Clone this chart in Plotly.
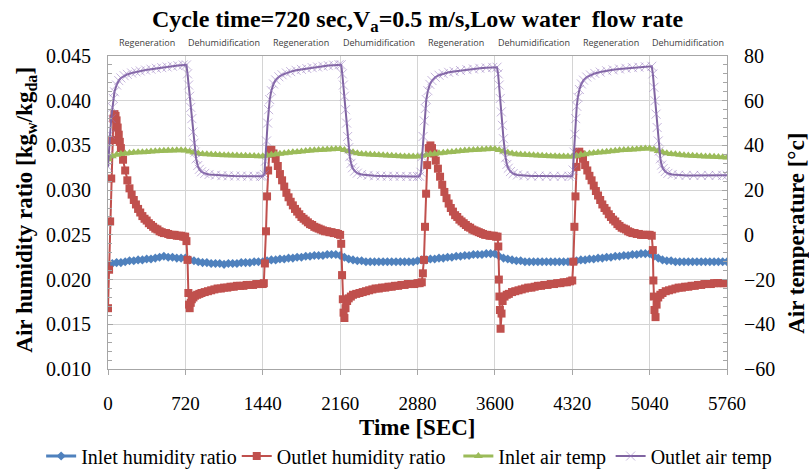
import plotly.graph_objects as go

# ---------------- data ----------------
x_ticks = [0, 720, 1440, 2160, 2880, 3600, 4320, 5040, 5760]
phase_labels = ["Regeneration", "Dehumidification"] * 4
phase_centers = [360, 1080, 1800, 2520, 3240, 3960, 4680, 5400]

# inlet series sampled every 40 s
t_inlet = list(range(0, 5761, 40))

inlet_humidity = [
    0.0216, 0.0218, 0.0219, 0.0219, 0.0220, 0.0221, 0.0221, 0.0222, 0.0222, 0.0223, 0.0223, 0.0224, 0.0225, 0.0226, 0.0225, 0.0225, 0.0224, 0.0224,
    0.0224, 0.0222, 0.0221, 0.0220, 0.0219, 0.0219, 0.0218, 0.0218, 0.0218, 0.0217, 0.0218, 0.0218, 0.0218, 0.0219, 0.0219, 0.0219, 0.0220, 0.0220,
    0.0220, 0.0221, 0.0222, 0.0222, 0.0223, 0.0223, 0.0224, 0.0224, 0.0225, 0.0225, 0.0226, 0.0226, 0.0227, 0.0227, 0.0227, 0.0228, 0.0228, 0.0228,
    0.0227, 0.0225, 0.0223, 0.0222, 0.0221, 0.0221, 0.0220, 0.0220, 0.0220, 0.0220, 0.0220, 0.0220, 0.0220, 0.0220, 0.0220, 0.0220, 0.0220, 0.0220,
    0.0221, 0.0222, 0.0222, 0.0223, 0.0223, 0.0224, 0.0224, 0.0225, 0.0225, 0.0226, 0.0226, 0.0227, 0.0227, 0.0228, 0.0228, 0.0228, 0.0229, 0.0229,
    0.0229, 0.0226, 0.0224, 0.0223, 0.0222, 0.0221, 0.0221, 0.0220, 0.0220, 0.0220, 0.0220, 0.0220, 0.0220, 0.0220, 0.0220, 0.0220, 0.0220, 0.0220,
    0.0220, 0.0221, 0.0222, 0.0222, 0.0223, 0.0223, 0.0224, 0.0224, 0.0225, 0.0225, 0.0226, 0.0226, 0.0227, 0.0227, 0.0228, 0.0228, 0.0229, 0.0229,
    0.0229, 0.0226, 0.0224, 0.0222, 0.0221, 0.0221, 0.0220, 0.0220, 0.0220, 0.0220, 0.0220, 0.0220, 0.0220, 0.0220, 0.0220, 0.0220, 0.0220, 0.0220,
    0.0220,
]

inlet_temp = [
    33.8, 35.2, 35.8, 36.2, 36.4, 36.6, 36.8, 36.9, 37.0, 37.1, 37.3, 37.4, 37.5, 37.6, 37.7, 37.7, 37.8, 37.8,
    37.7, 37.3, 36.8, 36.4, 36.2, 36.0, 35.9, 35.8, 35.7, 35.6, 35.6, 35.5, 35.5, 35.4, 35.4, 35.3, 35.3, 35.2,
    35.2, 35.5, 35.8, 36.0, 36.3, 36.5, 36.7, 36.9, 37.1, 37.3, 37.5, 37.7, 37.8, 38.0, 38.1, 38.2, 38.3, 38.4,
    38.4, 38.0, 37.4, 36.9, 36.5, 36.2, 36.0, 35.9, 35.8, 35.7, 35.6, 35.5, 35.4, 35.3, 35.2, 35.1, 35.1, 35.0,
    35.0, 35.4, 35.7, 36.0, 36.3, 36.5, 36.7, 36.9, 37.1, 37.3, 37.5, 37.7, 37.8, 38.0, 38.1, 38.2, 38.3, 38.4,
    38.4, 38.0, 37.3, 36.8, 36.4, 36.1, 35.9, 35.8, 35.7, 35.6, 35.5, 35.4, 35.3, 35.2, 35.2, 35.1, 35.1, 35.0,
    35.0, 35.4, 35.8, 36.1, 36.4, 36.6, 36.8, 37.0, 37.2, 37.4, 37.6, 37.8, 37.9, 38.1, 38.2, 38.3, 38.5, 38.6,
    38.6, 38.2, 37.5, 36.9, 36.5, 36.2, 36.0, 35.8, 35.6, 35.5, 35.4, 35.3, 35.2, 35.1, 35.0, 34.9, 34.8, 34.7,
    34.6,
]

# outlet humidity ratio: (time s, kg/kg)
outlet_humidity_points = [
    # cycle 1 regeneration
    (0, 0.0168), (10, 0.0211), (20, 0.0265), (30, 0.0313), (40, 0.0356), (50, 0.0380), (60, 0.0385), (70, 0.0383),
    (80, 0.0378), (90, 0.0370), (100, 0.0362), (110, 0.0354), (120, 0.0347), (140, 0.0334), (160, 0.0322), (180, 0.0311),
    (200, 0.0302), (220, 0.0295), (240, 0.0289), (260, 0.0284), (280, 0.0279), (300, 0.0275), (320, 0.0271), (340, 0.0268),
    (360, 0.0266), (380, 0.0263), (400, 0.0261), (420, 0.0259), (440, 0.0257), (460, 0.0256), (480, 0.0254), (500, 0.0253),
    (520, 0.0252), (540, 0.0252), (560, 0.0251), (580, 0.0250), (600, 0.0250), (620, 0.0250), (640, 0.0249), (660, 0.0249),
    (680, 0.0249), (700, 0.0248), (718, 0.0248),
    # cycle 1 dehumidification
    (730, 0.0243), (740, 0.0222), (748, 0.0185), (754, 0.0172), (760, 0.0168), (770, 0.0174), (780, 0.0178), (795, 0.0180),
    (810, 0.0182), (830, 0.0183), (850, 0.0184), (870, 0.0185), (900, 0.0186), (930, 0.0187), (960, 0.0188), (990, 0.0189),
    (1020, 0.0190), (1050, 0.0190), (1080, 0.0191), (1110, 0.0191), (1140, 0.0192), (1170, 0.0192), (1200, 0.0193),
    (1230, 0.0193), (1260, 0.0193), (1290, 0.0194), (1320, 0.0194), (1350, 0.0194), (1380, 0.0195), (1410, 0.0195), (1440, 0.0195),
    # cycle 2 regeneration
    (1450, 0.0196), (1460, 0.0218), (1470, 0.0254), (1480, 0.0293), (1490, 0.0322), (1500, 0.0341), (1510, 0.0345),
    (1520, 0.0345), (1540, 0.0341), (1560, 0.0335), (1580, 0.0327), (1600, 0.0318), (1620, 0.0311), (1640, 0.0304),
    (1660, 0.0297), (1680, 0.0292), (1700, 0.0287), (1720, 0.0283), (1740, 0.0279), (1760, 0.0276), (1780, 0.0273),
    (1800, 0.0270), (1820, 0.0268), (1840, 0.0266), (1860, 0.0264), (1880, 0.0262), (1900, 0.0261), (1920, 0.0259),
    (1940, 0.0258), (1960, 0.0257), (1980, 0.0256), (2000, 0.0255), (2020, 0.0254), (2040, 0.0254), (2060, 0.0253),
    (2080, 0.0253), (2100, 0.0252), (2120, 0.0252), (2140, 0.0251), (2160, 0.0250),
    # cycle 2 dehumidification
    (2170, 0.0240), (2178, 0.0205), (2185, 0.0178), (2192, 0.0163), (2200, 0.0157), (2210, 0.0168), (2225, 0.0176),
    (2240, 0.0179), (2260, 0.0181), (2280, 0.0183), (2310, 0.0184), (2340, 0.0185), (2370, 0.0186), (2400, 0.0187),
    (2430, 0.0188), (2460, 0.0189), (2490, 0.0190), (2520, 0.0190), (2550, 0.0191), (2580, 0.0191), (2610, 0.0192),
    (2640, 0.0192), (2670, 0.0193), (2700, 0.0193), (2730, 0.0194), (2760, 0.0194), (2790, 0.0195), (2820, 0.0195),
    (2850, 0.0195), (2880, 0.0196),
    # cycle 3 regeneration
    (2900, 0.0196), (2920, 0.0197), (2930, 0.0207), (2940, 0.0222), (2950, 0.0259), (2960, 0.0296), (2970, 0.0328),
    (2985, 0.0347), (3000, 0.0350), (3015, 0.0347), (3030, 0.0341), (3050, 0.0333), (3070, 0.0324), (3090, 0.0315),
    (3110, 0.0306), (3130, 0.0298), (3150, 0.0291), (3170, 0.0285), (3190, 0.0280), (3210, 0.0276), (3230, 0.0272),
    (3250, 0.0270), (3270, 0.0267), (3290, 0.0265), (3310, 0.0263), (3330, 0.0261), (3350, 0.0259), (3370, 0.0258),
    (3390, 0.0256), (3410, 0.0255), (3430, 0.0254), (3450, 0.0253), (3470, 0.0252), (3490, 0.0251), (3510, 0.0250),
    (3530, 0.0250), (3550, 0.0249), (3570, 0.0249), (3590, 0.0249), (3610, 0.0248), (3625, 0.0248),
    # cycle 3 dehumidification
    (3632, 0.0237), (3637, 0.0200), (3642, 0.0181), (3647, 0.0166), (3653, 0.0145), (3662, 0.0162), (3672, 0.0176),
    (3690, 0.0181), (3710, 0.0183), (3730, 0.0184), (3760, 0.0186), (3790, 0.0187), (3820, 0.0188), (3850, 0.0189),
    (3880, 0.0190), (3910, 0.0191), (3940, 0.0191), (3970, 0.0192), (4000, 0.0193), (4030, 0.0193), (4060, 0.0194),
    (4090, 0.0194), (4120, 0.0195), (4150, 0.0195), (4180, 0.0196), (4210, 0.0196), (4240, 0.0197), (4270, 0.0197),
    (4300, 0.0198), (4320, 0.0199),
    # cycle 4 regeneration
    (4330, 0.0220), (4340, 0.0259), (4350, 0.0293), (4360, 0.0326), (4370, 0.0342), (4385, 0.0343), (4400, 0.0340),
    (4420, 0.0335), (4440, 0.0328), (4460, 0.0322), (4480, 0.0316), (4500, 0.0311), (4520, 0.0305), (4540, 0.0299),
    (4560, 0.0294), (4580, 0.0289), (4600, 0.0284), (4620, 0.0280), (4640, 0.0277), (4660, 0.0273), (4680, 0.0270),
    (4700, 0.0267), (4720, 0.0265), (4740, 0.0262), (4760, 0.0260), (4780, 0.0258), (4800, 0.0257), (4820, 0.0256),
    (4840, 0.0254), (4860, 0.0253), (4880, 0.0252), (4900, 0.0252), (4920, 0.0251), (4940, 0.0251), (4960, 0.0250),
    (4980, 0.0250), (5000, 0.0250), (5020, 0.0250), (5040, 0.0250), (5060, 0.0249),
    # cycle 4 dehumidification
    (5070, 0.0233), (5075, 0.0199), (5080, 0.0181), (5085, 0.0166), (5095, 0.0158), (5105, 0.0172), (5120, 0.0180),
    (5140, 0.0183), (5160, 0.0185), (5190, 0.0187), (5220, 0.0188), (5250, 0.0189), (5280, 0.0190), (5310, 0.0191),
    (5340, 0.0191), (5370, 0.0192), (5400, 0.0192), (5430, 0.0193), (5460, 0.0193), (5490, 0.0194), (5520, 0.0194),
    (5550, 0.0195), (5580, 0.0195), (5610, 0.0195), (5640, 0.0196), (5670, 0.0196), (5700, 0.0196), (5730, 0.0196),
    (5760, 0.0196),
]

t_outlet_temp = [
    0, 10, 20, 30, 40, 50, 60, 80, 100, 120, 150, 180, 220, 260, 300, 350, 400, 450, 500, 550, 600, 650, 700, 730,
    740, 750, 760, 770, 780, 790, 800, 810, 820, 835, 850, 870, 900, 940, 1000, 1060, 1120, 1180, 1240, 1300, 1360, 1420,
    1440, 1455, 1465, 1475, 1485, 1495, 1505, 1520, 1540, 1560, 1590, 1620, 1660, 1700, 1750, 1800, 1850, 1900, 1950, 2000, 2050, 2100, 2150, 2170,
    2180, 2190, 2200, 2210, 2220, 2230, 2240, 2250, 2262, 2275, 2295, 2320, 2360, 2420, 2480, 2540, 2600, 2660, 2720, 2780, 2840,
    2880, 2900, 2912, 2922, 2932, 2942, 2952, 2962, 2977, 2995, 3015, 3045, 3080, 3120, 3170, 3220, 3280, 3340, 3400, 3460, 3520, 3580, 3620,
    3630, 3640, 3650, 3660, 3670, 3680, 3690, 3700, 3712, 3725, 3745, 3770, 3810, 3870, 3940, 4010, 4080, 4150, 4220, 4290,
    4320, 4328, 4336, 4344, 4352, 4362, 4372, 4387, 4405, 4425, 4455, 4490, 4530, 4580, 4640, 4700, 4760, 4820, 4880, 4940, 5000, 5060,
    5070, 5080, 5090, 5100, 5110, 5120, 5130, 5140, 5152, 5165, 5185, 5210, 5250, 5310, 5380, 5450, 5520, 5590, 5660, 5720, 5760,
]
outlet_temp = [
    30.5, 36, 45, 52, 57, 61, 64, 67, 69, 70.2, 71.2, 71.8, 72.4, 72.9, 73.3, 73.7, 74.1, 74.5, 74.8, 75.1, 75.4, 75.7, 76.0, 76.0,
    72, 67, 62, 57, 52, 46, 41, 37, 34, 31, 29.3, 28.2, 27.5, 27.0, 26.7, 26.5, 26.4, 26.3, 26.3, 26.2, 26.2, 26.2,
    26.2, 27, 33, 42, 50, 56, 60.5, 64.5, 67.5, 69.3, 70.7, 71.6, 72.4, 73.0, 73.6, 74.0, 74.4, 74.8, 75.1, 75.4, 75.7, 75.9, 76.1, 76.1,
    72, 67, 62, 56, 50, 44, 39, 35, 32, 30, 28.5, 27.6, 27.0, 26.6, 26.4, 26.3, 26.2, 26.2, 26.2, 26.1, 26.1,
    26.1, 26.2, 28, 35, 44, 51, 56.5, 60.5, 64.5, 67.3, 69.0, 70.5, 71.4, 72.1, 72.7, 73.1, 73.5, 73.9, 74.2, 74.5, 74.7, 74.9, 75.0,
    72, 67, 61, 55, 49, 43, 38, 34.5, 31.5, 29.8, 28.3, 27.4, 26.8, 26.5, 26.3, 26.3, 26.2, 26.2, 26.2, 26.2,
    26.2, 29, 37, 45, 52, 57.5, 61.5, 65, 67.5, 69.2, 70.6, 71.5, 72.2, 72.8, 73.4, 73.8, 74.2, 74.5, 74.8, 75.0, 75.2, 75.4,
    72, 66, 60, 54, 48, 42, 37.5, 34, 31.2, 29.6, 28.3, 27.5, 27.0, 26.7, 26.6, 26.6, 26.6, 26.6, 26.6, 26.6, 26.7,
]

t_outlet_hum = [p[0] for p in outlet_humidity_points]
outlet_humidity = [p[1] for p in outlet_humidity_points]

# ---------------- figure ----------------
SERIF = "Liberation Serif, Times New Roman, serif"
GRID = "#D4D4D4"
AXIS = "#A6A6A6"

fig = go.Figure()

fig.add_trace(go.Scatter(
    x=t_inlet, y=inlet_humidity, name="Inlet humidity ratio", mode="lines+markers", legend="legend",
    line=dict(color="#4F81BD", width=3),
    marker=dict(symbol="diamond", size=7, color="#4F81BD"),
))
fig.add_trace(go.Scatter(
    x=t_outlet_hum, y=outlet_humidity, name="Outlet humidity ratio", mode="lines+markers", legend="legend2",
    line=dict(color="#C0504D", width=2),
    marker=dict(symbol="square", size=8, color="#C0504D"),
))
fig.add_trace(go.Scatter(
    x=t_inlet, y=inlet_temp, name="Inlet air temp", mode="lines+markers", yaxis="y2", legend="legend3",
    line=dict(color="#9BBB59", width=3),
    marker=dict(symbol="triangle-up", size=8, color="#9BBB59"),
))
fig.add_trace(go.Scatter(
    x=t_outlet_temp, y=outlet_temp, name="Outlet air temp", mode="lines+markers", yaxis="y2", legend="legend4",
    line=dict(color="#8064A2", width=2),
    marker=dict(symbol="x-thin-open", size=9, color="rgba(150,120,190,0.55)",
                line=dict(width=1, color="rgba(150,120,190,0.55)")),
))

annotations = []
for lab, xc in zip(phase_labels, phase_centers):
    annotations.append(dict(
        x=xc, xref="x", y=1.043, yref="paper", text=lab, showarrow=False,
        xanchor="center", yanchor="middle",
        font=dict(family="Open Sans, sans-serif", size=9, color="#404040"),
    ))

annotations += [
    dict(text="<b>Cycle time=720 sec,V<sub>a</sub>=0.5 m/s,Low water  flow rate</b>",
         x=0.5, xref="paper", y=1.112, yref="paper", showarrow=False,
         xanchor="center", yanchor="middle", font=dict(family=SERIF, size=24, color="black")),
    dict(text="<b>Time [SEC]</b>", x=0.5, xref="paper", y=-0.188, yref="paper", showarrow=False,
         xanchor="center", yanchor="middle", font=dict(family=SERIF, size=23, color="black")),
    dict(text="<b>Air humidity ratio [kg<sub>w</sub>/kg<sub>da</sub>]</b>", x=-0.132, xref="paper",
         y=0.51, yref="paper", textangle=-90, showarrow=False, xanchor="center", yanchor="middle",
         font=dict(family=SERIF, size=23, color="black")),
    dict(text="<b>Air temperature [°c]</b>", x=1.113, xref="paper",
         y=0.435, yref="paper", textangle=-90, showarrow=False, xanchor="center", yanchor="middle",
         font=dict(family=SERIF, size=23, color="black")),
]

LEG_Y = -0.278
def leg(xpos):
    return dict(orientation="h", x=xpos, xanchor="left", y=LEG_Y, yanchor="middle",
                font=dict(family=SERIF, size=20, color="black"), itemwidth=30,
                bgcolor="rgba(0,0,0,0)")

fig.update_layout(
    width=809, height=470,
    margin=dict(l=108, r=82, t=56, b=101, autoexpand=False),
    paper_bgcolor="white", plot_bgcolor="white",
    showlegend=True,
    legend=leg(-0.108), legend2=leg(0.208), legend3=leg(0.566), legend4=leg(0.812),
    annotations=annotations,
    xaxis=dict(
        range=[0, 5760], tickmode="array", tickvals=x_ticks, ticktext=[str(v) for v in x_ticks],
        showgrid=True, gridcolor=GRID, gridwidth=1, zeroline=False,
        showline=True, linecolor=AXIS, linewidth=1, mirror=True,
        ticks="outside", ticklen=5, tickcolor=AXIS, ticklabelstandoff=12,
        tickfont=dict(family=SERIF, size=19, color="black"),
    ),
    yaxis=dict(
        range=[0.010, 0.045], dtick=0.005, tick0=0.010, tickformat=".3f",
        showgrid=True, gridcolor=GRID, gridwidth=1, zeroline=False,
        showline=True, linecolor=AXIS, linewidth=1,
        ticks="inside", ticklen=5, tickcolor=AXIS, ticklabelstandoff=12,
        minor=dict(dtick=0.001, ticks="inside", ticklen=4, tickcolor=AXIS, showgrid=False),
        tickfont=dict(family=SERIF, size=20, color="black"),
    ),
    yaxis2=dict(
        range=[-60, 80], dtick=20, tick0=-60, overlaying="y", side="right",
        showgrid=False, zeroline=False,
        showline=True, linecolor=AXIS, linewidth=1,
        ticks="inside", ticklen=5, tickcolor=AXIS, ticklabelstandoff=12,
        minor=dict(dtick=4, ticks="inside", ticklen=4, tickcolor=AXIS, showgrid=False),
        tickfont=dict(family=SERIF, size=20, color="black"),
    ),
)

fig.write_html("out.html")
